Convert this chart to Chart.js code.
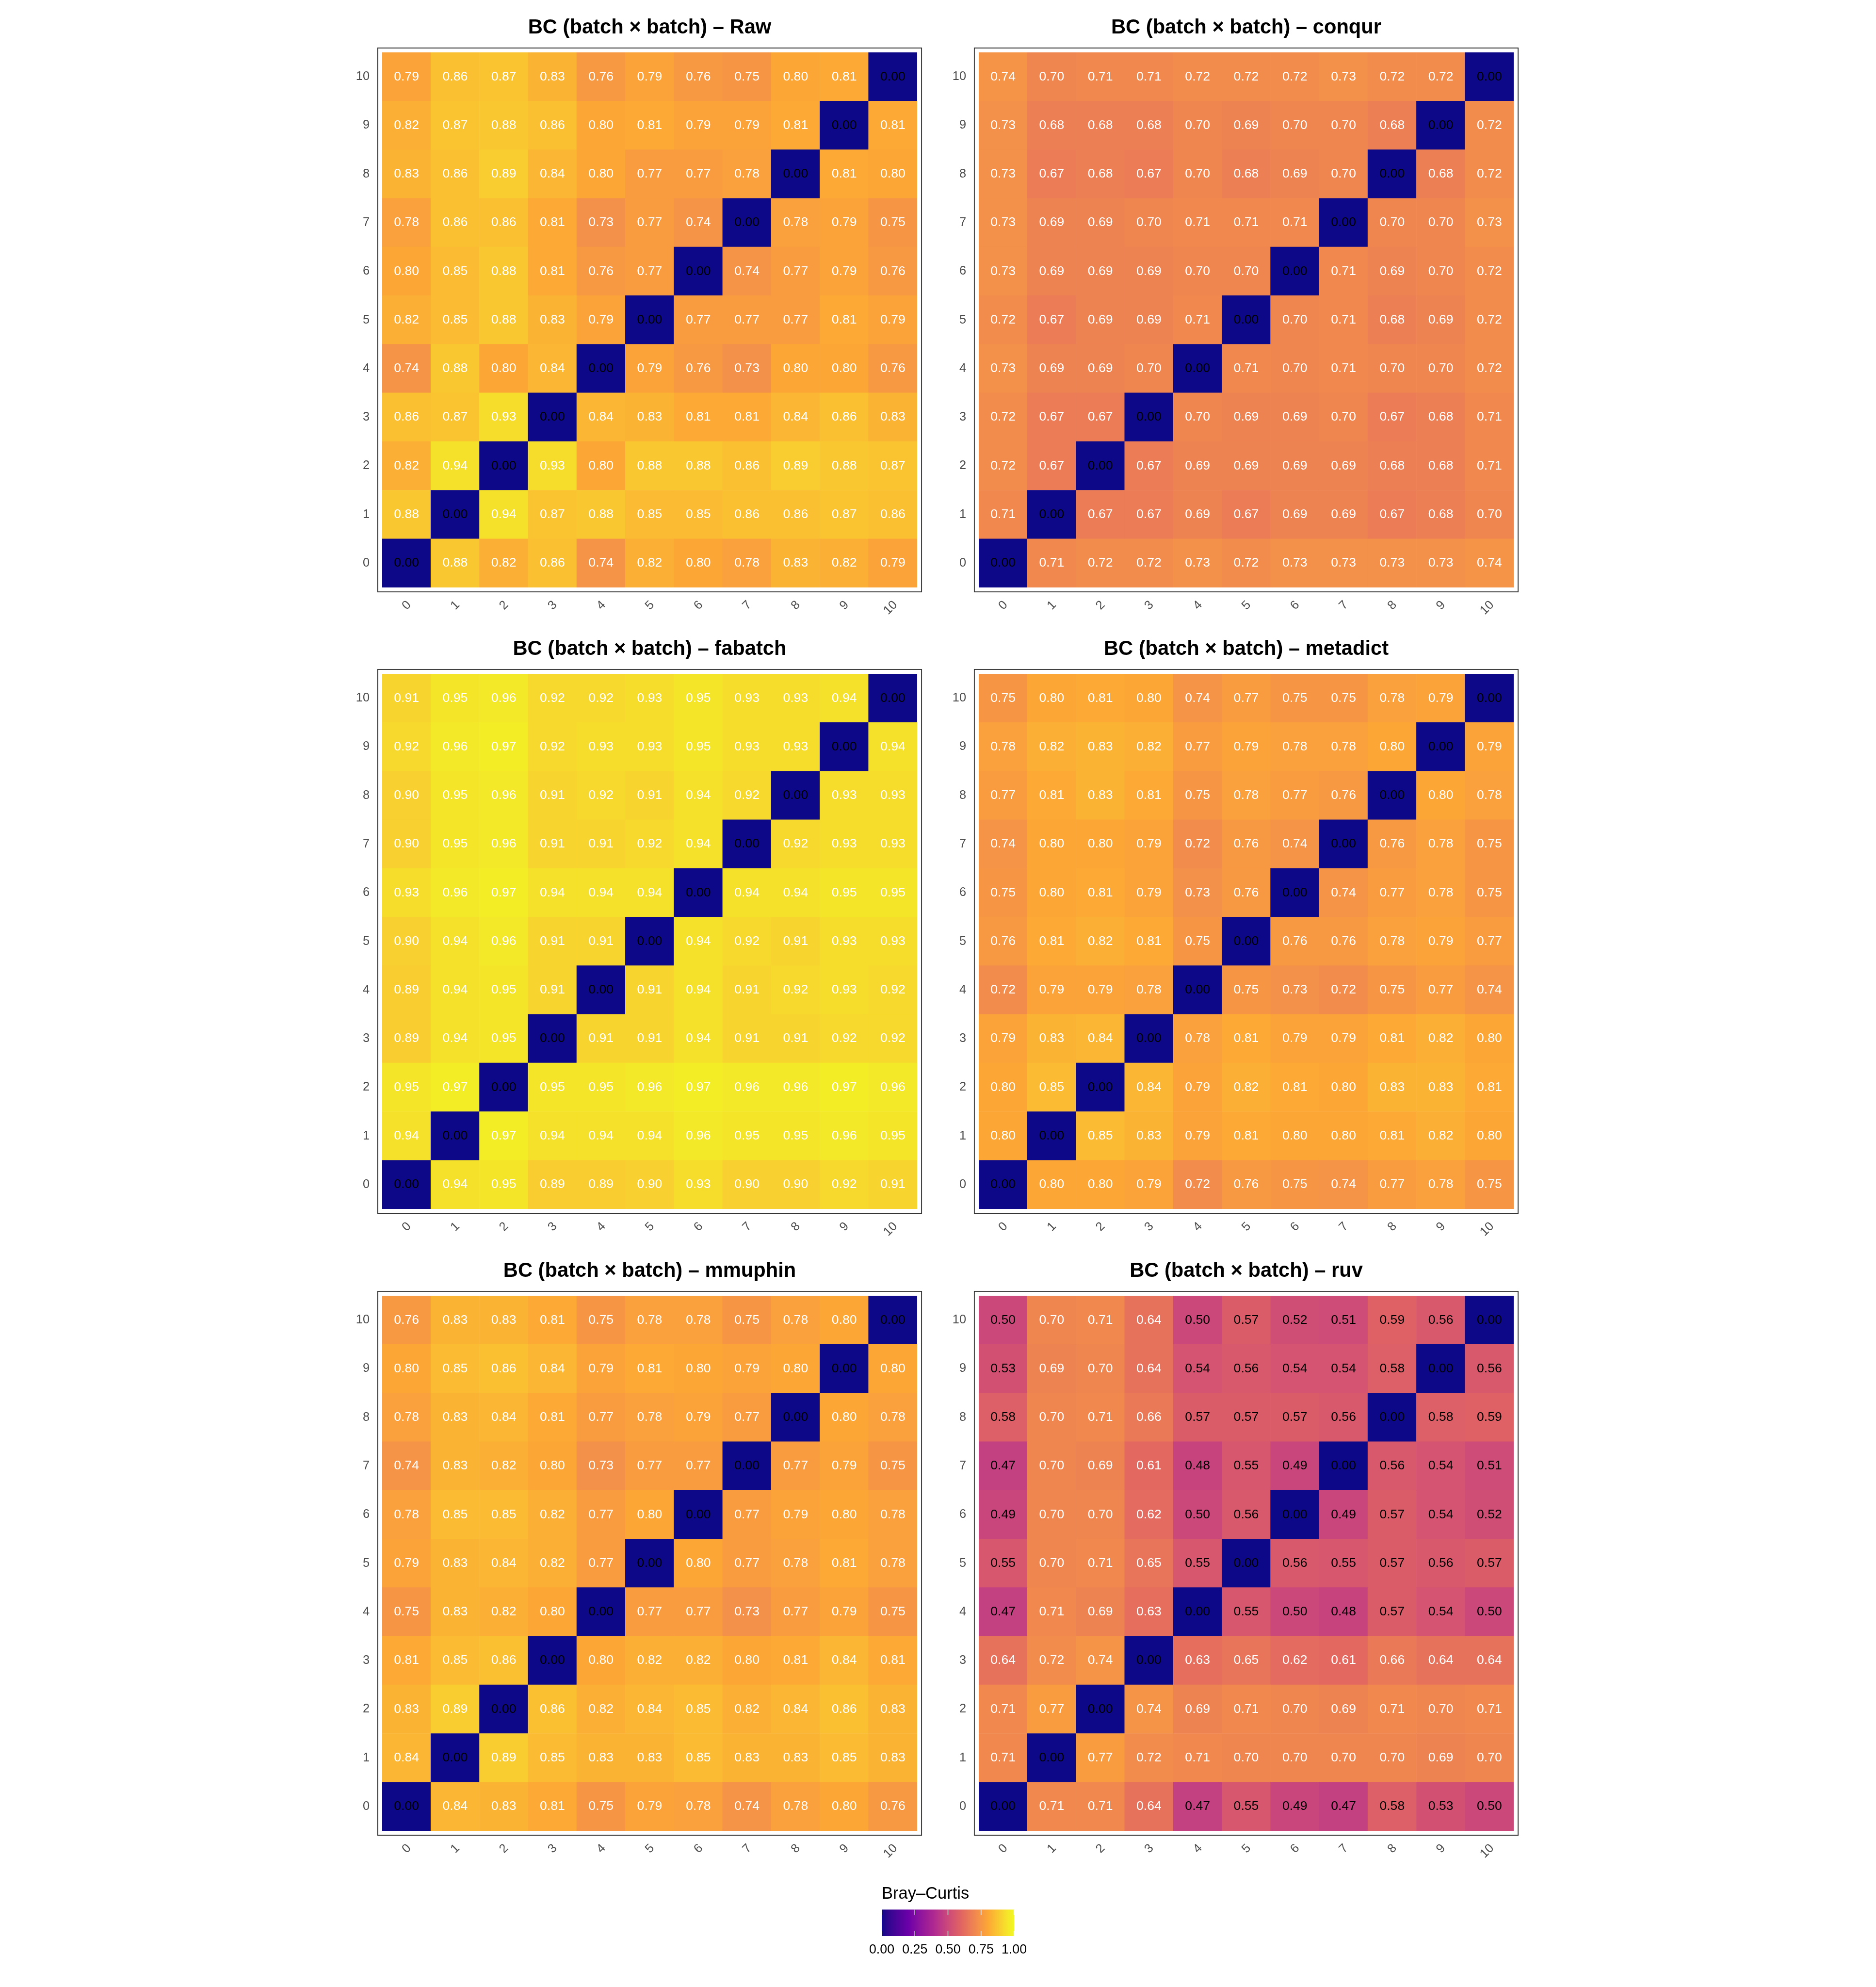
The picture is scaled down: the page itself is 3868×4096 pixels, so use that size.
<!DOCTYPE html>
<html>
<head>
<meta charset="utf-8">
<script src="https://cdn.jsdelivr.net/npm/chart.js@4.4.1/dist/chart.umd.min.js"></script>
<style>
html,body{margin:0;padding:0;background:#ffffff;}
body{width:3868px;height:4096px;position:relative;overflow:hidden;}
canvas{position:absolute;}
</style>
</head>
<body>
<script>
// ---------------- DATA ----------------
const batches = ['0','1','2','3','4','5','6','7','8','9','10'];
const methodNames = ['Raw','conqur','fabatch','metadict','mmuphin','ruv'];
const legendTicks = [0, 0.25, 0.5, 0.75, 1];
const legendTitle = 'Bray–Curtis';

// each matrix: rows are y = 0 .. 10 (bottom to top), columns x = 0 .. 10
const raw = [
  [0.00,0.88,0.82,0.86,0.74,0.82,0.80,0.78,0.83,0.82,0.79],
  [0.88,0.00,0.94,0.87,0.88,0.85,0.85,0.86,0.86,0.87,0.86],
  [0.82,0.94,0.00,0.93,0.80,0.88,0.88,0.86,0.89,0.88,0.87],
  [0.86,0.87,0.93,0.00,0.84,0.83,0.81,0.81,0.84,0.86,0.83],
  [0.74,0.88,0.80,0.84,0.00,0.79,0.76,0.73,0.80,0.80,0.76],
  [0.82,0.85,0.88,0.83,0.79,0.00,0.77,0.77,0.77,0.81,0.79],
  [0.80,0.85,0.88,0.81,0.76,0.77,0.00,0.74,0.77,0.79,0.76],
  [0.78,0.86,0.86,0.81,0.73,0.77,0.74,0.00,0.78,0.79,0.75],
  [0.83,0.86,0.89,0.84,0.80,0.77,0.77,0.78,0.00,0.81,0.80],
  [0.82,0.87,0.88,0.86,0.80,0.81,0.79,0.79,0.81,0.00,0.81],
  [0.79,0.86,0.87,0.83,0.76,0.79,0.76,0.75,0.80,0.81,0.00]
];
const conqur = [
  [0.00,0.71,0.72,0.72,0.73,0.72,0.73,0.73,0.73,0.73,0.74],
  [0.71,0.00,0.67,0.67,0.69,0.67,0.69,0.69,0.67,0.68,0.70],
  [0.72,0.67,0.00,0.67,0.69,0.69,0.69,0.69,0.68,0.68,0.71],
  [0.72,0.67,0.67,0.00,0.70,0.69,0.69,0.70,0.67,0.68,0.71],
  [0.73,0.69,0.69,0.70,0.00,0.71,0.70,0.71,0.70,0.70,0.72],
  [0.72,0.67,0.69,0.69,0.71,0.00,0.70,0.71,0.68,0.69,0.72],
  [0.73,0.69,0.69,0.69,0.70,0.70,0.00,0.71,0.69,0.70,0.72],
  [0.73,0.69,0.69,0.70,0.71,0.71,0.71,0.00,0.70,0.70,0.73],
  [0.73,0.67,0.68,0.67,0.70,0.68,0.69,0.70,0.00,0.68,0.72],
  [0.73,0.68,0.68,0.68,0.70,0.69,0.70,0.70,0.68,0.00,0.72],
  [0.74,0.70,0.71,0.71,0.72,0.72,0.72,0.73,0.72,0.72,0.00]
];
const fabatch = [
  [0.00,0.94,0.95,0.89,0.89,0.90,0.93,0.90,0.90,0.92,0.91],
  [0.94,0.00,0.97,0.94,0.94,0.94,0.96,0.95,0.95,0.96,0.95],
  [0.95,0.97,0.00,0.95,0.95,0.96,0.97,0.96,0.96,0.97,0.96],
  [0.89,0.94,0.95,0.00,0.91,0.91,0.94,0.91,0.91,0.92,0.92],
  [0.89,0.94,0.95,0.91,0.00,0.91,0.94,0.91,0.92,0.93,0.92],
  [0.90,0.94,0.96,0.91,0.91,0.00,0.94,0.92,0.91,0.93,0.93],
  [0.93,0.96,0.97,0.94,0.94,0.94,0.00,0.94,0.94,0.95,0.95],
  [0.90,0.95,0.96,0.91,0.91,0.92,0.94,0.00,0.92,0.93,0.93],
  [0.90,0.95,0.96,0.91,0.92,0.91,0.94,0.92,0.00,0.93,0.93],
  [0.92,0.96,0.97,0.92,0.93,0.93,0.95,0.93,0.93,0.00,0.94],
  [0.91,0.95,0.96,0.92,0.92,0.93,0.95,0.93,0.93,0.94,0.00]
];
const metadict = [
  [0.00,0.80,0.80,0.79,0.72,0.76,0.75,0.74,0.77,0.78,0.75],
  [0.80,0.00,0.85,0.83,0.79,0.81,0.80,0.80,0.81,0.82,0.80],
  [0.80,0.85,0.00,0.84,0.79,0.82,0.81,0.80,0.83,0.83,0.81],
  [0.79,0.83,0.84,0.00,0.78,0.81,0.79,0.79,0.81,0.82,0.80],
  [0.72,0.79,0.79,0.78,0.00,0.75,0.73,0.72,0.75,0.77,0.74],
  [0.76,0.81,0.82,0.81,0.75,0.00,0.76,0.76,0.78,0.79,0.77],
  [0.75,0.80,0.81,0.79,0.73,0.76,0.00,0.74,0.77,0.78,0.75],
  [0.74,0.80,0.80,0.79,0.72,0.76,0.74,0.00,0.76,0.78,0.75],
  [0.77,0.81,0.83,0.81,0.75,0.78,0.77,0.76,0.00,0.80,0.78],
  [0.78,0.82,0.83,0.82,0.77,0.79,0.78,0.78,0.80,0.00,0.79],
  [0.75,0.80,0.81,0.80,0.74,0.77,0.75,0.75,0.78,0.79,0.00]
];
const mmuphin = [
  [0.00,0.84,0.83,0.81,0.75,0.79,0.78,0.74,0.78,0.80,0.76],
  [0.84,0.00,0.89,0.85,0.83,0.83,0.85,0.83,0.83,0.85,0.83],
  [0.83,0.89,0.00,0.86,0.82,0.84,0.85,0.82,0.84,0.86,0.83],
  [0.81,0.85,0.86,0.00,0.80,0.82,0.82,0.80,0.81,0.84,0.81],
  [0.75,0.83,0.82,0.80,0.00,0.77,0.77,0.73,0.77,0.79,0.75],
  [0.79,0.83,0.84,0.82,0.77,0.00,0.80,0.77,0.78,0.81,0.78],
  [0.78,0.85,0.85,0.82,0.77,0.80,0.00,0.77,0.79,0.80,0.78],
  [0.74,0.83,0.82,0.80,0.73,0.77,0.77,0.00,0.77,0.79,0.75],
  [0.78,0.83,0.84,0.81,0.77,0.78,0.79,0.77,0.00,0.80,0.78],
  [0.80,0.85,0.86,0.84,0.79,0.81,0.80,0.79,0.80,0.00,0.80],
  [0.76,0.83,0.83,0.81,0.75,0.78,0.78,0.75,0.78,0.80,0.00]
];
const ruv = [
  [0.00,0.71,0.71,0.64,0.47,0.55,0.49,0.47,0.58,0.53,0.50],
  [0.71,0.00,0.77,0.72,0.71,0.70,0.70,0.70,0.70,0.69,0.70],
  [0.71,0.77,0.00,0.74,0.69,0.71,0.70,0.69,0.71,0.70,0.71],
  [0.64,0.72,0.74,0.00,0.63,0.65,0.62,0.61,0.66,0.64,0.64],
  [0.47,0.71,0.69,0.63,0.00,0.55,0.50,0.48,0.57,0.54,0.50],
  [0.55,0.70,0.71,0.65,0.55,0.00,0.56,0.55,0.57,0.56,0.57],
  [0.49,0.70,0.70,0.62,0.50,0.56,0.00,0.49,0.57,0.54,0.52],
  [0.47,0.70,0.69,0.61,0.48,0.55,0.49,0.00,0.56,0.54,0.51],
  [0.58,0.70,0.71,0.66,0.57,0.57,0.57,0.56,0.00,0.58,0.59],
  [0.53,0.69,0.70,0.64,0.54,0.56,0.54,0.54,0.58,0.00,0.56],
  [0.50,0.70,0.71,0.64,0.50,0.57,0.52,0.51,0.59,0.56,0.00]
];
const matrices = [raw, conqur, fabatch, metadict, mmuphin, ruv];

// ---------------- STYLE / LAYOUT ----------------
const FONT = '"Liberation Sans", Arial, Helvetica, sans-serif';
Chart.defaults.font.family = FONT;
const plasmaStops = ['#0D0887','#6A00A8','#B12A90','#E16462','#FCA636','#F0F921'];
const S = 1103;                 // heat-map square side (px)
const panelPos = [[788,108.2],[2018,108.2],[788,1389.4],[2018,1389.4],[788,2671.2],[2018,2671.2]];
const AX_L = 60, AX_B = 70, TITLE_H = 86.04;

// colour scale: plasma(6) interpolated in CIE Lab (as ggplot's gradient_n_pal)
function hexToRgb(h){ h=h.replace('#',''); return [0,2,4].map(i=>parseInt(h.substr(i,2),16)); }
function toLin(c){ c/=255; return c<=0.04045? c/12.92 : Math.pow((c+0.055)/1.055,2.4); }
function fromLin(c){ c = c<=0.0031308? 12.92*c : 1.055*Math.pow(c,1/2.4)-0.055; return Math.max(0,Math.min(255,Math.round(c*255))); }
const XN=0.95047, YN=1, ZN=1.08883;
function fLab(t){ return t>0.008856? Math.cbrt(t) : 7.787*t+16/116; }
function fInv(f){ const f3=f*f*f; return f3>0.008856? f3 : (f-16/116)/7.787; }
function hexToLab(h){
  const [r,g,b]=hexToRgb(h).map(toLin);
  const X=0.4124564*r+0.3575761*g+0.1804375*b;
  const Y=0.2126729*r+0.7151522*g+0.0721750*b;
  const Z=0.0193339*r+0.1191920*g+0.9503041*b;
  const fx=fLab(X/XN), fy=fLab(Y/YN), fz=fLab(Z/ZN);
  return [116*fy-16, 500*(fx-fy), 200*(fy-fz)];
}
function labToCss(L,a,b){
  const fy=(L+16)/116, fx=a/500+fy, fz=fy-b/200;
  const X=XN*fInv(fx), Y=YN*fInv(fy), Z=ZN*fInv(fz);
  const r= 3.2404542*X-1.5371385*Y-0.4985314*Z;
  const g=-0.9692660*X+1.8760108*Y+0.0415560*Z;
  const bb=0.0556434*X-0.2040259*Y+1.0572252*Z;
  return 'rgb('+fromLin(r)+','+fromLin(g)+','+fromLin(bb)+')';
}
const STOP_LAB = plasmaStops.map(hexToLab);
function fillColor(v){
  const t = Math.min(1,Math.max(0,v))*(STOP_LAB.length-1);
  const i = Math.min(Math.floor(t), STOP_LAB.length-2);
  const f = t-i, a=STOP_LAB[i], b=STOP_LAB[i+1];
  return labToCss(a[0]+(b[0]-a[0])*f, a[1]+(b[1]-a[1])*f, a[2]+(b[2]-a[2])*f);
}

// ---------------- PLUGINS ----------------
const cellPlugin = {
  id: 'cellLabels',
  beforeDraw(chart){
    const {ctx, chartArea:a} = chart; const g = 9.1;
    ctx.save();
    ctx.strokeStyle = '#333333'; ctx.lineWidth = 1.9;
    ctx.strokeRect(a.left-g, a.top-g, (a.right-a.left)+2*g, (a.bottom-a.top)+2*g);
    ctx.restore();
  },
  afterDatasetsDraw(chart){
    const ctx = chart.ctx;
    ctx.save();
    ctx.font = '26.6px ' + FONT;
    ctx.textAlign = 'center'; ctx.textBaseline = 'middle';
    chart.data.datasets.forEach((ds, di) => {
      chart.getDatasetMeta(di).data.forEach((bar, j) => {
        const v = ds.values[j];
        ctx.fillStyle = v < 0.6 ? '#000000' : '#ffffff';
        ctx.fillText(v.toFixed(2), bar.x, (bar.y + bar.base)/2);
      });
    });
    ctx.restore();
  }
};

const colorbarPlugin = {
  id: 'colorbar',
  beforeDatasetsDraw(chart){
    const {ctx, chartArea:a, scales:{x}} = chart;
    const x0 = x.getPixelForValue(legendTicks[0]);
    const x1 = x.getPixelForValue(legendTicks[legendTicks.length-1]);
    const grad = ctx.createLinearGradient(x0,0,x1,0);
    const n = 100;
    for (let k=0;k<=n;k++) grad.addColorStop(k/n, fillColor(k/n));
    ctx.save();
    ctx.fillStyle = grad;
    ctx.fillRect(x0, a.top, x1-x0, a.bottom-a.top);
    const tl = (a.bottom-a.top)*0.2;
    ctx.strokeStyle = '#ffffff'; ctx.lineWidth = 1.4;
    legendTicks.forEach(v => {
      const px = x.getPixelForValue(v);
      ctx.beginPath();
      ctx.moveTo(px, a.top); ctx.lineTo(px, a.top+tl);
      ctx.moveTo(px, a.bottom-tl); ctx.lineTo(px, a.bottom);
      ctx.stroke();
    });
    ctx.restore();
  }
};

// ---------------- PANELS ----------------
function makeCanvas(left, top, w, h){
  const c = document.createElement('canvas');
  c.width = Math.round(w); c.height = Math.round(h);
  c.style.left = left+'px'; c.style.top = top+'px';
  c.style.width = Math.round(w)+'px'; c.style.height = Math.round(h)+'px';
  document.body.appendChild(c);
  return c;
}

matrices.forEach((m, i) => {
  const [cx, cy] = panelPos[i];
  const c = makeCanvas(cx-AX_L, cy-TITLE_H, S+2*AX_L, TITLE_H+S+AX_B);
  const datasets = m.map((row, r) => ({
    label: batches[r],
    data: row.map(() => [Number(batches[r]) - 0.5, Number(batches[r]) + 0.5]),
    values: row,
    backgroundColor: row.map(v => fillColor(v)),
    borderWidth: 0,
    grouped: false,
    barPercentage: 1,
    categoryPercentage: 1
  }));
  new Chart(c, {
    type: 'bar',
    data: { labels: batches, datasets },
    options: {
      responsive: false, animation: false, devicePixelRatio: 1,
      layout: { padding: { left: 0, right: AX_L, top: 0, bottom: 0 } },
      plugins: {
        legend: { display: false },
        tooltip: { enabled: false },
        title: {
          display: true, fullSize: false,
          text: 'BC (batch × batch) – ' + methodNames[i],
          color: '#000000',
          font: { size: 41.7, weight: 'bold', lineHeight: 1.2 },
          padding: { top: 10, bottom: 26 }
        }
      },
      scales: {
        x: {
          type: 'category', offset: true,
          grid: { display: false, drawTicks: false }, border: { display: false },
          ticks: { color: '#4D4D4D', font: { size: 25.4 }, minRotation: 45, maxRotation: 45,
                   padding: 21.4, labelOffset: 5.5, autoSkip: false },
          afterFit: s => { s.height = AX_B; }
        },
        y: {
          type: 'linear', min: -0.5, max: 10.5,
          grid: { display: false, drawTicks: false }, border: { display: false },
          afterBuildTicks: s => { s.ticks = batches.map(b => ({ value: Number(b) })); },
          ticks: { color: '#4D4D4D', font: { size: 25.4 }, padding: 26, callback: v => String(v) },
          afterFit: s => { s.width = AX_L; }
        }
      }
    },
    plugins: [cellPlugin]
  });
});

// ---------------- LEGEND ----------------
(function(){
  const barLeft = 1818.4, barW = 272.9, barTop = 3936.3, barH = 54.6;
  const topH = 10 + 34.5*1.2 + 11, axH = 60;
  const c = makeCanvas(barLeft-60, barTop-topH, barW+120, topH+barH+axH);
  new Chart(c, {
    type: 'scatter',
    data: { datasets: [] },
    options: {
      responsive: false, animation: false, devicePixelRatio: 1,
      layout: { padding: { left: 60, right: 60, top: 0, bottom: 0 } },
      plugins: {
        legend: { display: false }, tooltip: { enabled: false },
        title: { display: true, text: legendTitle, align: 'start', color: '#000000',
                 font: { size: 34.5, weight: 'normal', lineHeight: 1.2 }, padding: { top: 10, bottom: 11 } }
      },
      scales: {
        x: {
          type: 'linear', min: legendTicks[0], max: legendTicks[legendTicks.length-1],
          grid: { display: false, drawTicks: false }, border: { display: false },
          afterBuildTicks: s => { s.ticks = legendTicks.map(v => ({ value: v })); },
          ticks: { color: '#000000', font: { size: 26.8 }, padding: 12.2, maxRotation: 0, callback: v => Number(v).toFixed(2) },
          afterFit: s => { s.height = axH; }
        },
        y: { display: false, min: 0, max: 1 }
      }
    },
    plugins: [colorbarPlugin]
  });
})();
</script>
</body>
</html>
